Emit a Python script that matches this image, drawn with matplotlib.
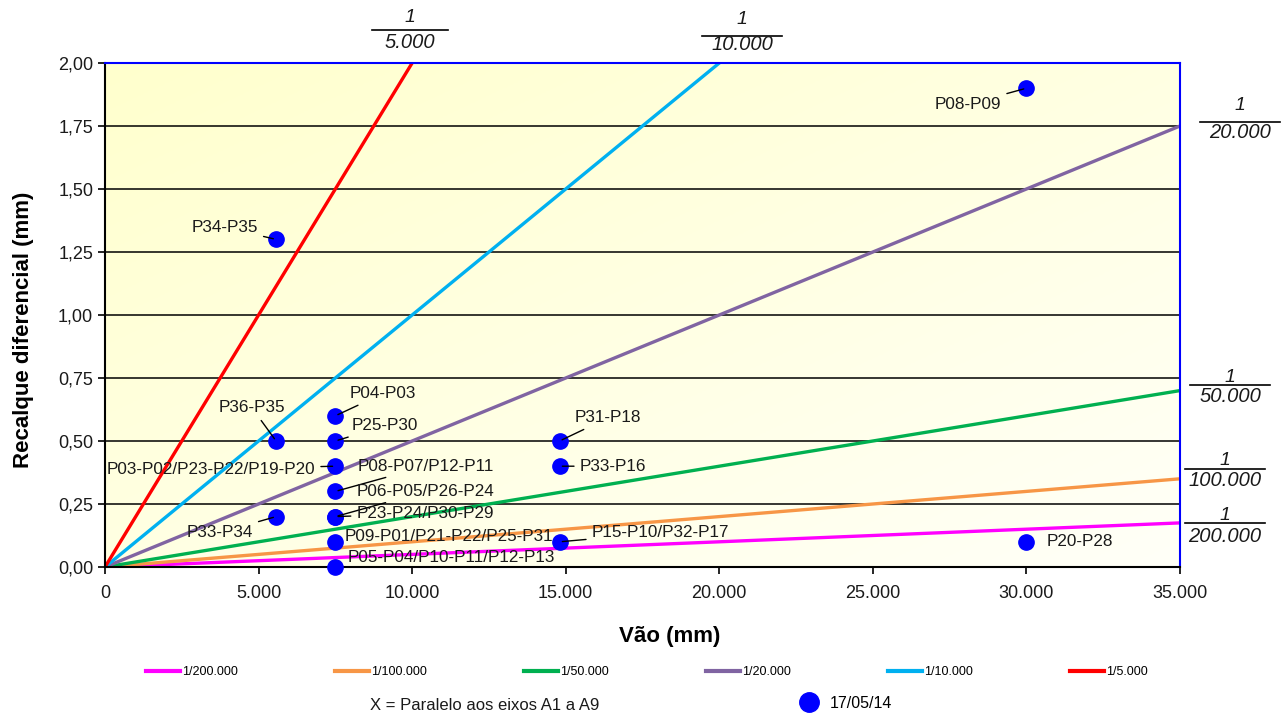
import numpy as np
import matplotlib
matplotlib.use("Agg")
import matplotlib.pyplot as plt
from matplotlib.lines import Line2D
from matplotlib.ticker import FuncFormatter, MultipleLocator

plt.rcParams['font.family'] = ['Liberation Sans', 'DejaVu Sans']

# ---- data ----
ratio_labels = ["1/200.000", "1/100.000", "1/50.000", "1/20.000", "1/10.000", "1/5.000"]
ratio_colors = ["#FF00FF", "#F79646", "#00B050", "#8064A2", "#00B0F0", "#FF0000"]
line_x = [0, 35000]
line_y_end = [0.175, 0.35, 0.70, 1.75, 3.50, 7.00]   # recalque at vão = 35.000 mm

pt_labels = ["P34-P35", "P36-P35", "P33-P34", "P04-P03", "P25-P30",
             "P03-P02/P23-P22/P19-P20", "P08-P07/P12-P11", "P06-P05/P26-P24",
             "P23-P24/P30-P29", "P09-P01/P21-P22/P25-P31", "P05-P04/P10-P11/P12-P13",
             "P31-P18", "P33-P16", "P15-P10/P32-P17", "P08-P09", "P20-P28"]
pt_x = [5570, 5570, 5570, 7500, 7500, 7500, 7500, 7500, 7500, 7500, 7500,
        14800, 14800, 14800, 30000, 30000]
pt_y = [1.30, 0.50, 0.20, 0.60, 0.50, 0.40, 0.30, 0.20, 0.20, 0.10, 0.00,
        0.50, 0.40, 0.10, 1.90, 0.10]

frac_dens = ["5.000", "10.000", "20.000", "50.000", "100.000", "200.000"]

# ---- figure ----
W, H = 1287, 717
fig = plt.figure(figsize=(W / 100, H / 100), dpi=100)
ax = fig.add_axes([105 / W, 1 - 567 / H, (1180 - 105) / W, (567 - 63) / H])

# gradient background
gx, gy = np.meshgrid(np.linspace(0, 1, 200), np.linspace(0, 1, 200))
t = np.clip((gx + gy) / 2.0, 0, 1)  # 0 at top-left (row 0 = top)
c0 = np.array([255, 255, 205]) / 255.0
c1 = np.array([255, 255, 248]) / 255.0
img = c0[None, None, :] * (1 - t[..., None]) + c1[None, None, :] * t[..., None]
ax.imshow(img, extent=[0, 35000, 0, 2.0], origin='upper', aspect='auto', zorder=0)

ax.set_xlim(0, 35000)
ax.set_ylim(0, 2.0)

for yv in np.arange(0.25, 2.0, 0.25):
    ax.axhline(yv, color='black', lw=1.1, zorder=1)

handles = []
for lab, col, ye in zip(ratio_labels, ratio_colors, line_y_end):
    ln, = ax.plot(line_x, [0, ye], color=col, lw=2.4, label=lab, zorder=2)
    handles.append(ln)

ax.plot(pt_x, pt_y, 'o', color='#0000FF', ms=11, zorder=4, clip_on=False, linestyle='none')

offs = [(-18, 12, 'right'), (-24, 33, 'center'), (-23, -16, 'right'),
        (14, 22, 'left'), (16, 15, 'left'), (-20, -3, 'right'),
        (22, 25, 'left'), (21, 25, 'left'), (21, 3, 'left'),
        (9, 5, 'left'), (12, 10, 'left'),
        (15, 23, 'left'), (20, 0, 'left'), (32, 9, 'left'),
        (-25, -16, 'right'), (20, 0, 'left')]
leader = [True, True, True, True, True, True, True, True, True, False, False,
          True, True, True, True, False]
for lab, x, y, (dx, dy, ha), ld in zip(pt_labels, pt_x, pt_y, offs, leader):
    ap = dict(arrowstyle='-', color='black', lw=1.0, shrinkA=2, shrinkB=2) if ld else None
    ax.annotate(lab, (x, y), xytext=(dx * 0.72, dy * 0.72), textcoords='offset points',
                ha=ha, va='center', fontsize=12.3, color='#1a1a1a',
                arrowprops=ap, zorder=5, annotation_clip=False)

for s in ['left', 'bottom']:
    ax.spines[s].set_color('black')
    ax.spines[s].set_linewidth(1.5)
for s in ['top', 'right']:
    ax.spines[s].set_color('#0000FF')
    ax.spines[s].set_linewidth(1.5)

ax.yaxis.set_major_locator(MultipleLocator(0.25))
ax.xaxis.set_major_locator(MultipleLocator(5000))
ax.yaxis.set_major_formatter(FuncFormatter(lambda v, p: f"{v:.2f}".replace('.', ',')))
ax.xaxis.set_major_formatter(FuncFormatter(lambda v, p: f"{int(round(v)):,}".replace(',', '.')))
ax.tick_params(axis='both', labelsize=13, length=5, width=1.2, color='black', labelcolor='#1a1a1a')
ax.tick_params(axis='x', pad=8)

ax.set_xlabel("Vão (mm)", fontsize=16, fontweight='bold')
ax.set_ylabel("Recalque diferencial (mm)", fontsize=16, fontweight='bold')
ax.xaxis.set_label_coords((670 - 105) / 1075, -(626 - 567) / 504)
ax.yaxis.set_label_coords(-(105 - 34) / 1075, (567 - 330) / 504)

frac_pos = [(410, 17, 30, 42), (742, 20, 36, 45), (1240, 106, 122, 133),
            (1230, 377, 385, 397), (1225, 461, 469, 481), (1225, 515, 523, 536)]
bar_w = [76, 80, 80, 80, 80, 80]
for den, (cx, ny, by, dy), bw in zip(frac_dens, frac_pos, bar_w):
    fig.text(cx / W, 1 - ny / H, "1", ha='center', va='center', fontsize=14,
             style='italic', color='#1a1a1a')
    fig.text(cx / W, 1 - dy / H, den, ha='center', va='center', fontsize=14.5,
             style='italic', color='#1a1a1a')
    fig.add_artist(Line2D([(cx - bw / 2) / W, (cx + bw / 2) / W], [1 - by / H, 1 - by / H],
                          color='black', lw=1.2, transform=fig.transFigure))

leg = fig.legend(handles=handles, loc='center', bbox_to_anchor=(647 / W, 1 - 672 / H),
                 ncol=6, frameon=False, fontsize=9, handlelength=2.7, handletextpad=0.15,
                 columnspacing=7.8)
for lh in leg.get_lines():
    lh.set_linewidth(3)

fig.text(370 / W, 1 - 705 / H, "X = Paralelo aos eixos A1 a A9", ha='left', va='center',
         fontsize=12, color='#1a1a1a')
mk = Line2D([], [], marker='o', color='#0000FF', ms=14, linestyle='none')
fig.legend(handles=[mk], labels=["17/05/14"], loc='center left',
           bbox_to_anchor=(785 / W, 1 - 703 / H), frameon=False, fontsize=11.5,
           handletextpad=0.3, borderpad=0)

fig.savefig("out.png", dpi=100)
